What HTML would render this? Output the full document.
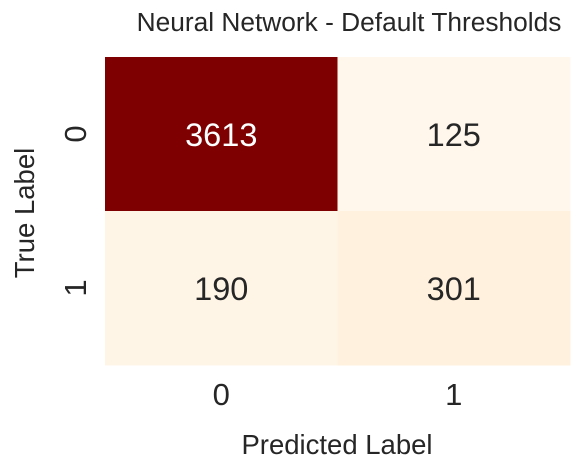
<!DOCTYPE html>
<html><head><meta charset="utf-8"><style>
body{margin:0;background:#fff;}
svg{display:block;font-family:"Liberation Sans",Arial,sans-serif;}
</style></head><body>
<svg id="chart" width="579" height="470">
<text x="349" y="31" font-size="26.3" fill="#262626" text-anchor="middle">Neural Network - Default Thresholds</text>
<g id="cells"></g>
<g id="ticks"></g>
<text x="337" y="454" font-size="27.5" fill="#262626" text-anchor="middle">Predicted Label</text>
<text transform="translate(34,213) rotate(-90)" font-size="27.5" fill="#262626" text-anchor="middle">True Label</text>
</svg>
<script>
const xCategories=["0","1"];
const yCategories=["0","1"];
const row0=[3613,125];
const row1=[190,301];
const values=[row0,row1];
const stops=["#fff7ec","#fee8c8","#fdd49e","#fdbb84","#fc8d59","#ef6548","#d7301f","#b30000","#7f0000"];
const X0=105,X1=570,Y0=57,Y1=365;
const cw=(X1-X0)/xCategories.length, ch=(Y1-Y0)/yCategories.length;
const xPos=i=>X0+i*cw, yPos=j=>Y0+j*ch;
const flat=values.flat(), vmin=Math.min(...flat), vmax=Math.max(...flat);
function hex(c){return [1,3,5].map(k=>parseInt(c.substr(k,2),16));}
function color(v){let t=(v-vmin)/(vmax-vmin)*(stops.length-1);let i=Math.min(Math.floor(t),stops.length-2);let f=t-i;
let a=hex(stops[i]),b=hex(stops[i+1]);return "rgb("+a.map((x,k)=>Math.round(x+(b[k]-x)*f)).join(",")+")";}
const NS="http://www.w3.org/2000/svg";
const g=document.getElementById("cells"), tg=document.getElementById("ticks");
values.forEach((row,j)=>row.forEach((v,i)=>{
 const r=document.createElementNS(NS,"rect");
 r.setAttribute("x",xPos(i));r.setAttribute("y",yPos(j));r.setAttribute("width",cw+0.5);r.setAttribute("height",ch+0.5);
 r.setAttribute("fill",color(v));
 
 
 g.appendChild(r);
 const t=document.createElementNS(NS,"text");
 t.setAttribute("x",xPos(i)+cw/2);t.setAttribute("y",yPos(j)+ch/2+12);
 t.setAttribute("text-anchor","middle");t.setAttribute("font-size","32.5");
 t.setAttribute("fill",(v-vmin)/(vmax-vmin)>0.5?"#ffffff":"#262626");
 t.textContent=v;
 
 
 g.appendChild(t);
}));
xCategories.forEach((c,i)=>{
 const t=document.createElementNS(NS,"text");
 t.setAttribute("x",xPos(i)+cw/2);t.setAttribute("y",405);t.setAttribute("text-anchor","middle");
 t.setAttribute("font-size","31");t.setAttribute("fill","#262626");t.textContent=c;
 
 
 tg.appendChild(t);
});
yCategories.forEach((c,j)=>{
 const t=document.createElementNS(NS,"text");
 t.setAttribute("transform","translate(86,"+(yPos(j)+ch/2)+") rotate(-90)");t.setAttribute("text-anchor","middle");
 t.setAttribute("font-size","31");t.setAttribute("fill","#262626");t.textContent=c;
 
 
 tg.appendChild(t);
});
</script>
</body></html>
